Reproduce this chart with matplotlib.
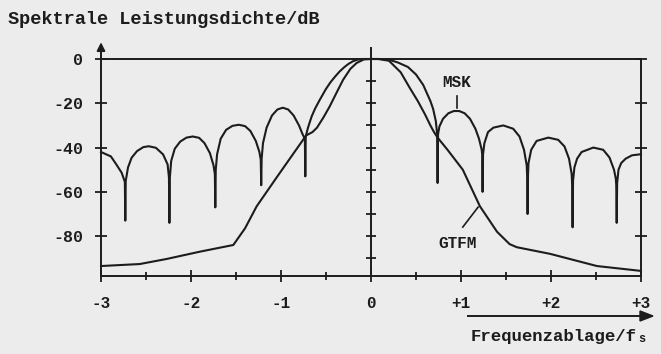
import matplotlib.pyplot as plt

# values: x in units of f_s, y in dB
msk_f = [-3.00, -2.89, -2.83, -2.77, -2.735, -2.73, -2.725, -2.70, -2.66, -2.60,
         -2.53, -2.47, -2.39, -2.31, -2.26, -2.245, -2.24, -2.235, -2.22, -2.18,
         -2.12, -2.05, -1.98, -1.91, -1.85, -1.79, -1.75, -1.735, -1.73, -1.725,
         -1.71, -1.67, -1.61, -1.54, -1.47, -1.40, -1.34, -1.28, -1.24, -1.225,
         -1.22, -1.215, -1.20, -1.16, -1.10, -1.04, -0.98, -0.92, -0.86, -0.80,
         -0.76, -0.735, -0.73, -0.725, -0.70, -0.66, -0.62, -0.57, -0.50, -0.45,
         -0.40, -0.35, -0.30, -0.25, -0.20, -0.15, -0.10, 0.00, 0.10, 0.20,
         0.30, 0.41, 0.50, 0.58, 0.66, 0.69, 0.72, 0.735, 0.74, 0.745,
         0.76, 0.80, 0.86, 0.92, 0.98, 1.04, 1.10, 1.16, 1.20, 1.23,
         1.235, 1.24, 1.245, 1.26, 1.30, 1.36, 1.47, 1.58, 1.65, 1.70,
         1.73, 1.735, 1.74, 1.745, 1.75, 1.78, 1.84, 1.97, 2.08, 2.15,
         2.20, 2.23, 2.235, 2.24, 2.245, 2.26, 2.29, 2.34, 2.47, 2.58,
         2.65, 2.70, 2.72, 2.725, 2.73, 2.735, 2.75, 2.78, 2.83, 2.90, 3.00]
msk_db = [-42, -44, -47.6, -51.4, -55.5, -73, -55, -49, -44.6, -41.6,
          -39.8, -39.4, -40.1, -43.1, -47.6, -53.5, -74, -53.5, -46, -40.5,
          -37.3, -35.5, -35, -35.6, -38, -42.5, -48, -52, -67, -50,
          -43, -36, -32, -30.2, -29.7, -30.3, -32.5, -37, -42, -45.5,
          -57, -45, -38, -31, -25.5, -22.8, -22, -22.8, -25.5, -30,
          -34, -36, -53, -35, -31, -26, -22.3, -18.5, -13.5, -10.5,
          -8, -5.7, -3.8, -2.2, -1, -0.3, 0, 0, 0, -0.3,
          -1.6, -3.6, -7, -11.7, -19, -22.5, -28, -34, -56, -34,
          -30.5, -27, -24.5, -23.5, -23.5, -24.5, -27, -31.5, -36, -41,
          -43, -60, -43, -38, -33, -31, -30, -31.5, -35, -41,
          -48, -53, -70, -52, -47, -41, -37, -35.5, -36.5, -39.5,
          -45, -52, -57, -76, -55, -49, -45, -42, -40, -41,
          -44.5, -50, -54, -57, -74, -56, -50, -47, -45, -43.5, -43]

gtfm_f = [-3.00, -2.57, -2.27, -1.90, -1.53, -1.40, -1.27, -1.04, -0.85, -0.72,
          -0.65, -0.60, -0.53, -0.46, -0.38, -0.31, -0.23, -0.16, -0.08, 0.00,
          0.08, 0.20, 0.33, 0.43, 0.52, 0.60, 0.66, 0.70, 0.74, 0.85,
          1.02, 1.21, 1.40, 1.54, 1.62, 1.99, 2.51, 3.00]
gtfm_db = [-93.5, -92.6, -90.3, -87, -84, -76.5, -66.5, -53, -42, -34.5,
           -33, -31, -26.5, -21.5, -15, -9.4, -4.5, -1.8, -0.2, 0,
           0, -0.8, -6, -13, -19, -25, -30, -33, -35.5, -41,
           -50, -66.5, -78, -83.6, -85, -88, -93.5, -95.7]

x_ticks = [-3, -2, -1, 0, 1, 2, 3]
x_labels = ['-3', '-2', '-1', '0', '+1', '+2', '+3']
x_minor = [-2.5, -1.5, -0.5, 0.5, 1.5, 2.5]
y_ticks = [0, -20, -40, -60, -80]
y_labels = ['0', '-20', '-40', '-60', '-80']
mid_ticks = [-10, -20, -30, -40, -50, -60, -70, -80, -90]

ink = '#1c1c1c'
paper = '#ececec'
mono = 'Liberation Mono'

fig = plt.figure(figsize=(6.61, 3.54), dpi=100, facecolor=paper)
ax = fig.add_axes([101 / 661, 78 / 354, 540 / 661, 217 / 354])
ax.set_facecolor(paper)

ax.plot(msk_f, msk_db, color=ink, lw=1.5, clip_on=False)
ax.plot(gtfm_f, gtfm_db, color=ink, lw=1.5, clip_on=False)

# centre line with its own small ticks
ax.plot([0, 0], [-98, 5], color=ink, lw=1.4, clip_on=False)
ax.plot([0] * len(mid_ticks), mid_ticks, ls='none', marker='_', ms=7, mew=1.3, color=ink)

ax.set_xlim(-3, 3)
ax.set_ylim(-98, 0)
for s in ax.spines.values():
    s.set_color(ink)
    s.set_linewidth(1.4)

ax.set_xticks(x_ticks)
ax.set_xticklabels(x_labels)
ax.set_xticks(x_minor, minor=True)
ax.set_yticks(y_ticks)
ax.set_yticklabels(y_labels)
ax.tick_params(axis='x', which='major', direction='inout', length=9, width=1.3,
               color=ink, pad=10, labelsize=11.5, labelcolor=ink)
ax.tick_params(axis='x', which='minor', direction='inout', length=6, width=1.3, color=ink)
ax.tick_params(axis='y', which='major', direction='inout', length=8, width=1.3,
               color=ink, pad=9, labelsize=12, labelcolor=ink, right=True)
for lab in ax.get_xticklabels() + ax.get_yticklabels():
    lab.set_family(mono)
    lab.set_fontweight('bold')

# arrow on the level axis
ax.annotate('', xy=(0, 1.09), xytext=(0, 0.99), xycoords='axes fraction',
            arrowprops=dict(arrowstyle='-|>', color=ink, lw=1.4, mutation_scale=12))

ax.text(0.956, -10.8, 'MSK', family=mono, fontweight='bold', fontsize=11.5,
        ha='center', va='center', color=ink)
ax.plot([0.956, 0.956], [-16.5, -22], color=ink, lw=1.2)
ax.text(0.967, -83.2, 'GTFM', family=mono, fontweight='bold', fontsize=11.5,
        ha='center', va='center', color=ink)
ax.plot([1.02, 1.19], [-75.9, -66.9], color=ink, lw=1.2)

fig.text(8 / 661, 1 - 19 / 354, 'Spektrale Leistungsdichte/dB', family=mono,
         fontweight='bold', fontsize=13.4, ha='left', va='center', color=ink)

fig.add_artist(plt.Line2D([468 / 661, 640 / 661], [1 - 316 / 354] * 2, color=ink, lw=1.4))
fig.patches.append(plt.Polygon([[640 / 661, 1 - 311 / 354], [653 / 661, 1 - 316 / 354],
                                [640 / 661, 1 - 321 / 354]], closed=True, color=ink,
                               transform=fig.transFigure, figure=fig))
fig.text(637 / 661, 1 - 336 / 354, 'Frequenzablage/f', family=mono,
         fontweight='bold', fontsize=12.5, ha='right', va='center', color=ink)
fig.text(638 / 661, 1 - 339 / 354, 's', family=mono, fontweight='bold',
         fontsize=8.5, ha='left', va='center', color=ink)

fig.savefig('out.png', dpi=100, facecolor=paper)
